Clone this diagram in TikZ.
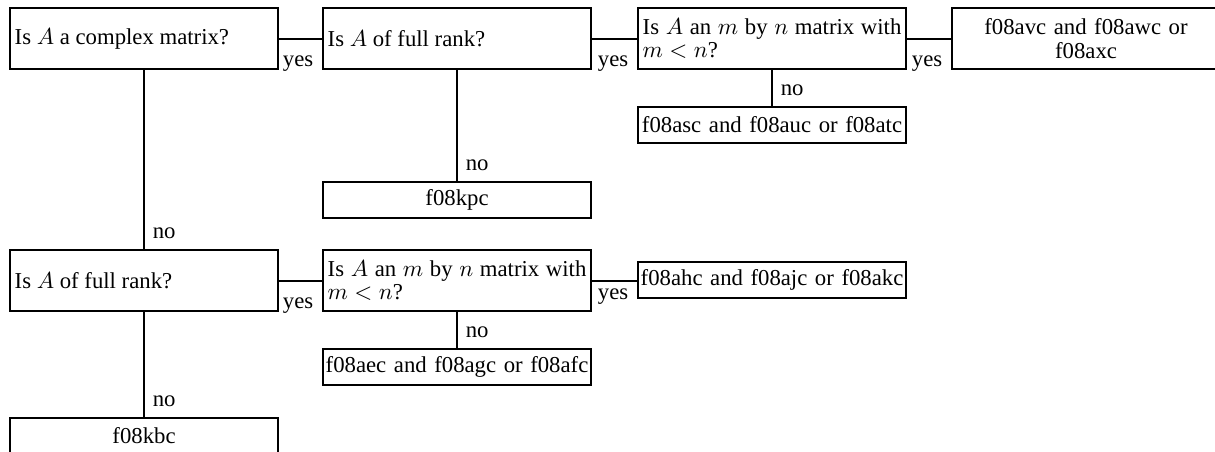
\documentclass[tikz,border=0pt]{standalone}
\usepackage{fontspec}
\setmainfont{Liberation Serif}

\begin{document}
\begin{tikzpicture}[x=0.431pt,y=-0.431pt,line width=0.9pt,
          font=\fontsize{9.8}{10.2}\selectfont,
          qbox/.style={draw,anchor=north west,text width=111.5pt,inner xsep=2pt,minimum height=26.3pt,align=justify},
          rbox/.style={draw,anchor=north west,text width=114pt,inner xsep=0.75pt,minimum height=15.5pt,align=center},
          yeslbl/.style={pos=1,anchor=base east,yshift=-12pt},
          nolbl/.style={pos=1,anchor=base west,yshift=4.7pt}]
          %frame
          \useasboundingbox (0,0) rectangle (1215,452);

          %complex matrices
          \node[qbox] (cplx) at (9,7) {Is $A$ a complex matrix?};
          \node[qbox] (crank) at (322,7) {Is $A$ of full rank?};
          \node[qbox] (cmn) at (637,7) {Is $A$ an $m$ by $n$ matrix with $m<n$?};
          \node[rbox,minimum height=26.3pt] (cavc) at (951,7) {f08avc and f08awc or\\ f08axc};
          \node[rbox] (casc) at (637,106) {f08asc and f08auc or f08atc};
          \node[rbox,minimum height=14.7pt] (ckpc) at (322,181) {f08kpc};

          %real matrices
          \node[qbox] (rrank) at (9,249) {Is $A$ of full rank?};
          \node[qbox] (rmn) at (322,249) {Is $A$ an $m$ by $n$ matrix with $m<n$?};
          \node[rbox] (rahc) at (637,261) {f08ahc and f08ajc or f08akc};
          \node[rbox] (raec) at (322,348) {f08aec and f08agc or f08afc};
          \node[rbox] (rkbc) at (9,417) {f08kbc};

          %yes branches
          \draw (cplx.east) -- (crank.west) node[yeslbl]{yes};
          \draw (crank.east) -- (cmn.west) node[yeslbl]{yes};
          \draw (cmn.east) -- (cavc.west) node[yeslbl]{yes};
          \draw (rrank.east) -- (rmn.west) node[yeslbl]{yes};
          \draw (rmn.east) -- (rmn.east -| rahc.west) node[yeslbl,yshift=4pt]{yes};

          %no branches
          \draw (cplx.south) -- (rrank.north) node[nolbl]{no};
          \draw (crank.south) -- (ckpc.north) node[nolbl]{no};
          \draw (cmn.south) -- (casc.north) node[nolbl]{no};
          \draw (rrank.south) -- (rkbc.north) node[nolbl]{no};
          \draw (rmn.south) -- (raec.north) node[nolbl]{no};
\end{tikzpicture}
\end{document}
